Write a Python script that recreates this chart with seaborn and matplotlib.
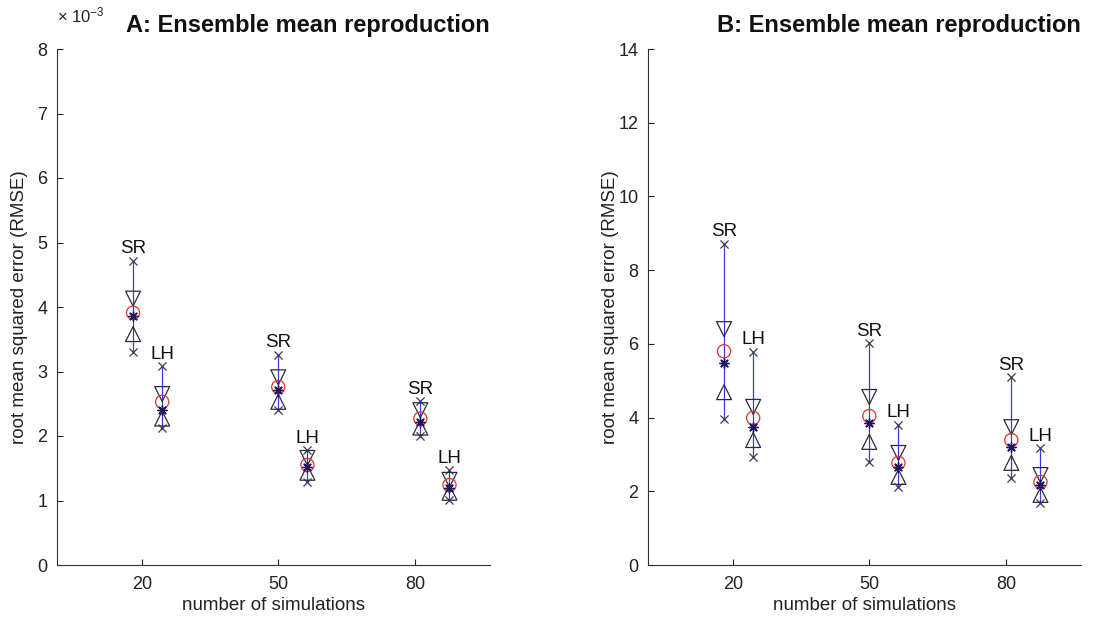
import numpy as np
import pandas as pd
import matplotlib
matplotlib.use("Agg")
import matplotlib.pyplot as plt
import seaborn as sns

# ---------------- data ----------------
tick_positions = [20, 50, 80]
tick_labels = ["20", "50", "80"]
x_SR = [18.1, 50.0, 81.2]
x_LH = [24.5, 56.4, 87.6]

# Panel A (values in units of 1e-3)
A_SR_max = [4.72, 3.26, 2.54]
A_SR_upper = [4.13, 2.91, 2.40]
A_SR_mean = [3.91, 2.76, 2.27]
A_SR_median = [3.86, 2.71, 2.22]
A_SR_lower = [3.58, 2.53, 2.13]
A_SR_min = [3.31, 2.40, 2.00]
A_LH_max = [3.08, 1.78, 1.47]
A_LH_upper = [2.65, 1.66, 1.32]
A_LH_mean = [2.53, 1.55, 1.24]
A_LH_median = [2.40, 1.52, 1.19]
A_LH_lower = [2.27, 1.43, 1.12]
A_LH_min = [2.13, 1.29, 1.01]

# Panel B
B_SR_max = [8.72, 6.02, 5.10]
B_SR_upper = [6.40, 4.56, 3.74]
B_SR_mean = [5.80, 4.04, 3.39]
B_SR_median = [5.48, 3.85, 3.20]
B_SR_lower = [4.69, 3.34, 2.77]
B_SR_min = [3.96, 2.79, 2.36]
B_LH_max = [5.78, 3.80, 3.17]
B_LH_upper = [4.29, 3.04, 2.44]
B_LH_mean = [3.99, 2.77, 2.25]
B_LH_median = [3.75, 2.66, 2.17]
B_LH_lower = [3.39, 2.39, 1.90]
B_LH_min = [2.93, 2.12, 1.68]

panels = {
    "A": {"SR": (x_SR, A_SR_max, A_SR_upper, A_SR_mean, A_SR_median, A_SR_lower, A_SR_min),
          "LH": (x_LH, A_LH_max, A_LH_upper, A_LH_mean, A_LH_median, A_LH_lower, A_LH_min)},
    "B": {"SR": (x_SR, B_SR_max, B_SR_upper, B_SR_mean, B_SR_median, B_SR_lower, B_SR_min),
          "LH": (x_LH, B_LH_max, B_LH_upper, B_LH_mean, B_LH_median, B_LH_lower, B_LH_min)},
}
titles = {"A": "A: Ensemble mean reproduction", "B": "B: Ensemble mean reproduction"}
ylims = {"A": (0, 8), "B": (0, 14)}
yticks = {"A": list(range(0, 9)), "B": list(range(0, 15, 2))}

# ---------------- style ----------------
sns.set_theme(style="ticks")
plt.rcParams["font.family"] = ["Liberation Sans", "DejaVu Sans"]
plt.rcParams["mathtext.fontset"] = "custom"
plt.rcParams["mathtext.rm"] = "Liberation Sans"
plt.rcParams["mathtext.it"] = "Liberation Sans:italic"

fig = plt.figure(figsize=(11.01, 6.19), dpi=100)
fig.patch.set_facecolor("white")
W, H = 1101, 619
axes = {
    "A": fig.add_axes([57 / W, 1 - 565 / H, 433 / W, 516 / H]),
    "B": fig.add_axes([648 / W, 1 - 565 / H, 433 / W, 516 / H]),
}

line_col = "#3c3cd6"
x_col = "#3a3a5c"
tri_col = "#2b2b3b"
circ_col = "#e0342c"
star_col = "#24165e"
asterisk = (8, 2, 0)

for key, ax in axes.items():
    ax.set_facecolor("white")
    for name, (xs, mx, up, mean, med, lo, mn) in panels[key].items():
        ax.vlines(xs, mn, mx, color=line_col, linewidth=0.9, zorder=1)
        sns.scatterplot(x=xs, y=mx, marker="x", s=34, color=x_col, linewidth=0.9, ax=ax, zorder=3)
        sns.scatterplot(x=xs, y=mn, marker="x", s=34, color=x_col, linewidth=0.9, ax=ax, zorder=3)
        sns.scatterplot(x=xs, y=up, marker="v", s=115, facecolor="none", edgecolor=tri_col,
                        linewidth=0.9, ax=ax, zorder=3)
        sns.scatterplot(x=xs, y=lo, marker="^", s=115, facecolor="none", edgecolor=tri_col,
                        linewidth=0.9, ax=ax, zorder=3)
        sns.scatterplot(x=xs, y=mean, marker="o", s=90, facecolor="none", edgecolor=circ_col,
                        linewidth=0.9, ax=ax, zorder=3)
        sns.scatterplot(x=xs, y=med, marker=asterisk, s=45, color=star_col, linewidth=1.0,
                        ax=ax, zorder=4)
        for xv, yv in zip(xs, mx):
            ax.annotate(name, (xv, yv), xytext=(0, 2.5), textcoords="offset points",
                        ha="center", va="bottom", fontsize=13.5, color="#111111")

    ax.set_xlim(1.4, 96.5)
    ax.set_ylim(*ylims[key])
    ax.set_xticks(tick_positions)
    ax.set_xticklabels(tick_labels)
    ax.set_yticks(yticks[key])
    ax.set_yticklabels([str(v) for v in yticks[key]])
    ax.tick_params(direction="in", length=4, width=0.8, labelsize=13, colors="#222222")
    ax.tick_params(axis="x", pad=8)
    ax.tick_params(axis="y", pad=7)
    for s in ["top", "right"]:
        ax.spines[s].set_visible(False)
    for s in ["left", "bottom"]:
        ax.spines[s].set_color("#333333")
        ax.spines[s].set_linewidth(0.8)
    ax.set_xlabel("number of simulations", fontsize=13.5, color="#222222")
    ax.set_ylabel("root mean squared error (RMSE)", fontsize=13.5, color="#222222")
    ax.xaxis.set_label_coords(0.5, -0.062)
    ax.yaxis.set_label_coords(-0.068, 0.5)
    ax.text(0.58, 1.033, titles[key], transform=ax.transAxes, ha="center", va="baseline",
            fontsize=17, fontweight="bold", color="#111111")

axes["A"].text(0.0, 1.052, r"$\times\ 10^{-3}$", transform=axes["A"].transAxes,
               ha="left", va="baseline", fontsize=12, color="#222222")

fig.savefig("out.png", dpi=100, facecolor="white")
